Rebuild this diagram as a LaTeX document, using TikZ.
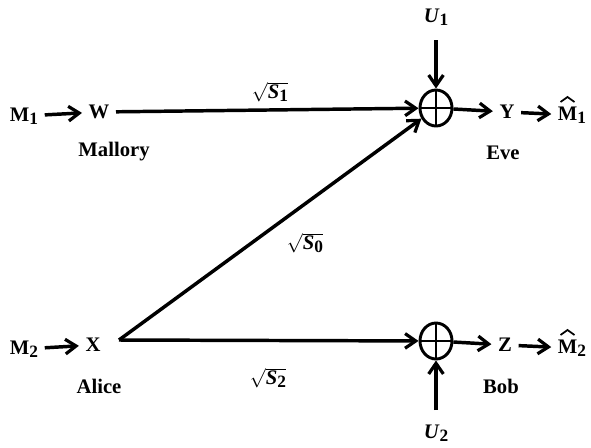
\documentclass[tikz,border=0pt]{standalone}
\usepackage{fontspec}
\usepackage{amsmath}
\setmainfont{Liberation Serif}
\usetikzlibrary{arrows.meta,shapes.geometric}
\newcommand{\bi}[1]{\textbf{\textit{#1}}}
\newcommand{\sbs}[1]{\raisebox{-0.35ex}{\fontsize{13}{13}\selectfont\bfseries #1}}
\begin{document}
\begin{tikzpicture}[x=0.75pt,y=-0.75pt,
  lbl/.style={font=\fontsize{15.5}{18}\selectfont\bfseries, inner sep=1pt, outer sep=4pt},
  arr/.style={line width=2.6pt,-{Straight Barb[length=8pt,width=11pt,line width=2.4pt]}},
  hatmark/.style={line width=1.3pt, line join=miter},
  adder/.style={ellipse, draw, line width=2.2pt, minimum width=24pt, minimum height=27pt, inner sep=0pt,
    path picture={\draw[line width=2.2pt] (path picture bounding box.north) -- (path picture bounding box.south)
      (path picture bounding box.west) -- (path picture bounding box.east);}}]
\useasboundingbox (0,0) rectangle (591,447);
% top row
\node[lbl] (m1) at (24,116) {M\sbs{1}};
\node[lbl] (w) at (99,112) {W};
\node[lbl] (mal) at (114,152) {Mallory};
\node[adder] (a1) at (436,108) {};
\node[lbl] (u1) at (436,17) {\bi{U}\sbs{1}};
\node[lbl] (y) at (507,112) {Y};
\node[lbl] (mh1) at (572,115) {M\sbs{1}};
\node[lbl] (eve) at (503,153) {Eve};
\node[lbl] (s1) at (270,92) {$\sqrt{\text{\bi{S}\sbs{1}}}$};
% bottom row
\node[lbl] (m2) at (24,349) {M\sbs{2}};
\node[lbl] (x) at (93,345) {X};
\node[lbl] (alice) at (99,386) {Alice};
\node[adder] (a2) at (436,341) {};
\node[lbl] (u2) at (436,433) {\bi{U}\sbs{2}};
\node[lbl] (z) at (505,345) {Z};
\node[lbl] (mh2) at (572,348) {M\sbs{2}};
\node[lbl] (bob) at (501,386) {Bob};
\node[lbl] (s2) at (268,378) {$\sqrt{\text{\bi{S}\sbs{2}}}$};
\node[lbl] (s0) at (305,243) {$\sqrt{\text{\bi{S}\sbs{0}}}$};
% hats
\draw[hatmark] ([shift={(-11.5,-13)}]mh1.center) -- ++(7,-5) -- ++(7,5);
\draw[hatmark] ([shift={(-11.5,-13)}]mh2.center) -- ++(7,-5) -- ++(7,5);
% connectors
\coordinate (xs) at (119,340);
\coordinate (us1) at (436,40);
\coordinate (us2) at (436,410);
\draw[arr] (m1) -- (w);
\draw[arr] (w) -- (a1);
\draw[arr] (us1) -- (a1);
\draw[arr] (a1) -- (y);
\draw[arr] (y) -- (mh1);
\draw[arr] (xs) -- (a1);
\draw[arr] (m2) -- (x);
\draw[arr] (xs) -- (a2);
\draw[arr] (us2) -- (a2);
\draw[arr] (a2) -- (z);
\draw[arr] (z) -- (mh2);
\end{tikzpicture}
\end{document}
